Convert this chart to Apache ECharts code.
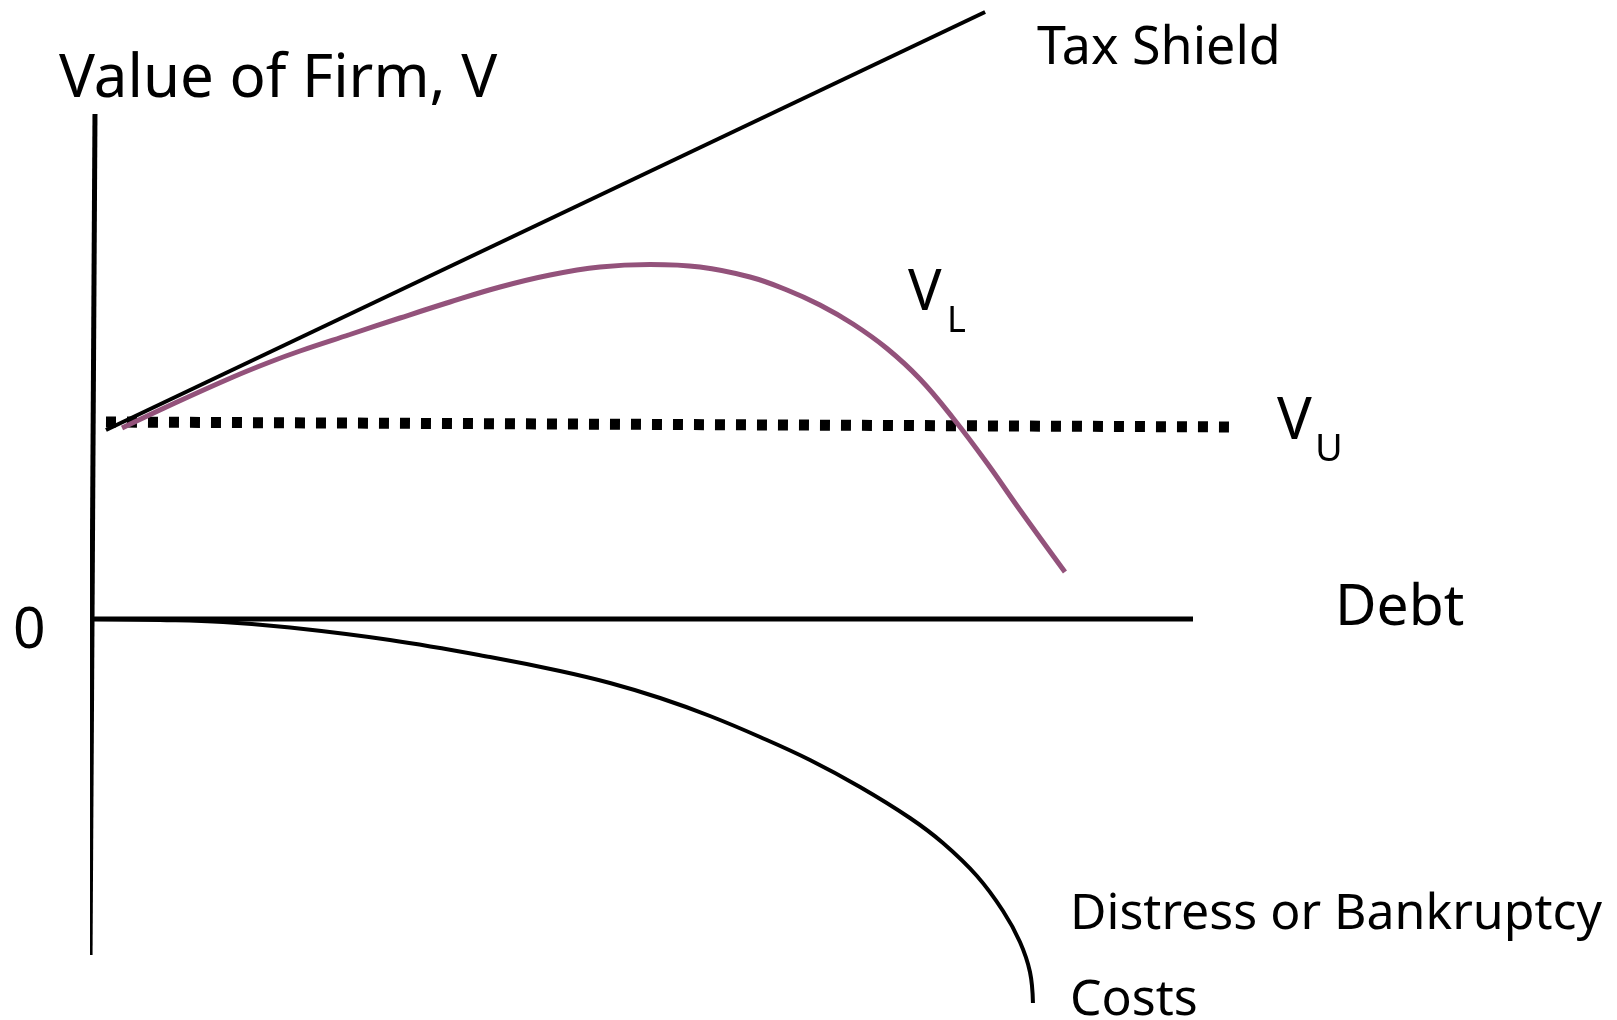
<!DOCTYPE html>
<html>
<head>
<meta charset="utf-8">
<title>Value of Firm vs Debt</title>
<script src="https://cdn.jsdelivr.net/npm/echarts@6/dist/echarts.min.js"></script>
<style>
  html, body { margin: 0; padding: 0; background: #fff; }
  #chart { width: 1617px; height: 1020px; }
</style>
</head>
<body>
<div id="chart"></div>
<script>
// debt on x, value on y (0 = debt axis)
var valueAxis = [[0.18, 50.5], [-0.27, -33.6]];
var debtAxis = [[0, 0], [100, 0]];
var taxShield = [[1.18, 18.9], [81.1, 60.7]];
var unlevered = [[1.18, 19.7], [104.0, 19.2]];
var levered = [
  [2.64, 19.1], [7.45, 21.6], [12.73, 24.2], [16.09, 25.7], [18.82, 26.8],
  [23.36, 28.45], [27.91, 30.1], [32.45, 31.7], [37.0, 33.2], [41.55, 34.4],
  [46.09, 35.2], [50.64, 35.45], [55.18, 35.2], [59.73, 34.2], [63.09, 32.9],
  [66.09, 31.4], [69.09, 29.5], [72.18, 27.05], [75.18, 24.0], [78.18, 20.1],
  [81.27, 15.6], [84.27, 10.9], [88.36, 4.7]
];
var distress = [
  [0, 0], [6.09, -0.1], [11.82, -0.3], [17.91, -0.85], [27.0, -2.1],
  [36.09, -3.8], [42.45, -5.2], [47.0, -6.4], [51.55, -7.9], [56.09, -9.7],
  [60.64, -11.8], [65.18, -14.1], [69.73, -16.8], [74.27, -19.9], [77.27, -22.4],
  [80.36, -25.7], [82.73, -29.2], [84.27, -32.3], [85.18, -35.3], [85.45, -38.4]
];

var chart = echarts.init(document.getElementById('chart'));

var fontFamily = '"Noto Sans", sans-serif';
function label(text, x, y, size) {
  return {
    type: 'text',
    x: x,
    y: y,
    style: {
      text: text,
      fill: '#000',
      font: size + 'px ' + fontFamily,
      align: 'left',
      verticalAlign: 'middle'
    }
  };
}

function line(data, color, width, type, smooth) {
  return {
    type: 'line',
    data: data,
    clip: false,
    symbol: 'none',
    smooth: smooth || false,
    silent: true,
    lineStyle: { color: color, width: width, type: type || 'solid', cap: 'butt' },
    z: 2
  };
}

var option = {
  backgroundColor: '#fff',
  animation: false,
  grid: { left: 93, top: 9, width: 1430, height: 1010 },
  xAxis: {
    type: 'value',
    min: 0,
    max: 130,
    show: false,
    splitLine: { show: false }
  },
  yAxis: {
    type: 'value',
    min: -40,
    max: 61,
    show: false,
    splitLine: { show: false }
  },
  series: [
    line(valueAxis, '#000', 5),
    line(debtAxis, '#000', 5),
    line(taxShield, '#000', 4),
    line(unlevered, '#000', 11, [10, 11]),
    line(levered, '#93527b', 5, 'solid', 0.4),
    line(distress, '#000', 4, 'solid', 0.4)
  ],
  graphic: [
    label('Value of Firm, V', 59, 80, 60),
    label('Tax Shield', 1037, 49, 52),
    label('V', 908, 294, 56),
    label('L', 947, 322, 36),
    label('V', 1277, 422, 58),
    label('U', 1315, 450, 38),
    label('0', 13, 632, 57),
    label('Debt', 1335, 609, 57),
    label('Distress or Bankruptcy', 1070, 915, 50),
    label('Costs', 1070, 1001, 50)
  ]
};

chart.setOption(option);
</script>
</body>
</html>
